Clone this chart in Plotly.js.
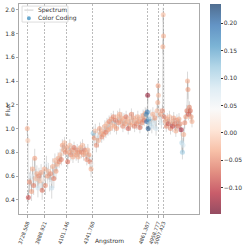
<!DOCTYPE html>
<html>
<head>
<meta charset="utf-8">
<script src="https://cdn.plot.ly/plotly-3.0.1.min.js"></script>
<style>html,body{margin:0;padding:0;background:#fff}#chart{width:249px;height:249px}</style>
</head>
<body>
<div id="chart"></div>
<script>
var wave = [
3728,3733,3738,3748,3758,3768,3778,3788,3798,3808,
3818,3828,3838,3848,3858,3868,3878,3888,3898,3908,
3918,3928,3938,3948,3958,3968,3978,3988,3998,4008,
4018,4028,4038,4048,4058,4068,4078,4088,4098,4108,
4118,4128,4138,4148,4158,4168,4178,4188,4198,4208,
4218,4228,4238,4248,4258,4268,4278,4288,4298,4308,
4318,4328,4338,4348,4358,4368,4378,4388,4398,4408,
4418,4428,4438,4448,4458,4468,4478,4488,4498,4508,
4518,4528,4538,4548,4558,4568,4578,4588,4598,4608,
4618,4628,4638,4648,4658,4668,4678,4688,4698,4708,
4718,4728,4738,4748,4758,4768,4778,4788,4798,4808,
4818,4828,4838,4846,4852,4858,4861,4866,4872,4880,
4890,4900,4910,4920,4930,4940,4950,4956,4959,4962,
4970,4980,4990,5000,5004,5007,5010,5016,5026,5036,
5046,5056,5066,5076,5086,5096,5106,5116,5126,5136,
5146,5156,5166,5176,5182,5188,5194,5200,5210,5220,
5230,5236,5240,5246,5254,5262,5270,5278];
var flux = [
1.00,0.90,0.42,0.55,0.60,0.47,0.66,0.52,0.75,0.58,
0.62,0.50,0.60,0.56,0.63,0.48,0.57,0.66,0.52,0.70,
0.60,0.64,0.55,0.62,0.50,0.68,0.58,0.73,0.64,0.70,
0.75,0.72,0.78,0.74,0.86,0.82,0.88,0.80,0.84,0.72,
0.80,0.86,0.78,0.82,0.76,0.84,0.80,0.78,0.82,0.76,
0.80,0.84,0.80,0.86,0.78,0.82,0.80,0.74,0.82,0.78,
0.72,0.66,0.70,0.96,0.92,0.98,0.86,0.94,0.90,1.00,
0.96,0.93,0.98,0.95,1.02,0.97,1.04,0.99,1.06,1.00,
1.08,1.03,1.10,1.02,1.07,1.00,1.10,1.05,1.12,1.06,
1.09,1.02,1.08,1.04,1.10,1.06,1.00,1.08,1.03,1.12,
1.05,1.09,1.02,1.07,1.04,1.10,1.06,1.01,1.08,1.05,
1.11,1.07,1.13,1.12,1.06,1.14,1.28,1.00,1.08,1.04,
1.10,1.02,1.12,1.05,1.09,1.00,1.15,1.22,1.36,1.28,
1.08,1.12,1.05,1.15,1.69,1.96,1.78,1.10,1.06,1.02,
1.08,1.04,1.10,1.00,1.06,1.02,1.09,1.04,0.98,1.07,
1.02,1.08,1.04,0.99,0.88,0.80,0.86,0.95,1.05,1.10,
1.15,1.40,1.33,1.12,1.18,1.15,1.10,1.06];
var coding = [
-0.03,-0.01,-0.09,-0.05,0.06,-0.04,-0.03,-0.06,-0.04,-0.02,
-0.03,0.08,-0.05,-0.02,-0.04,-0.07,0.03,-0.03,-0.05,0.06,
-0.04,-0.02,0.05,-0.05,0.09,-0.03,-0.06,-0.02,-0.04,-0.03,
-0.03,-0.05,-0.02,-0.06,-0.04,-0.03,-0.02,-0.05,-0.04,-0.07,
-0.03,-0.02,-0.05,-0.04,-0.03,-0.06,-0.02,-0.04,-0.05,-0.03,
-0.04,-0.03,-0.05,-0.02,-0.04,-0.06,-0.03,-0.05,-0.02,-0.04,
-0.06,-0.03,0.04,0.12,-0.04,-0.02,-0.05,0.06,-0.03,-0.04,
-0.03,-0.05,-0.02,-0.04,-0.03,-0.06,-0.02,-0.04,-0.05,-0.03,
-0.04,-0.02,-0.05,-0.03,-0.06,-0.04,-0.02,-0.05,-0.03,-0.04,
-0.03,-0.05,-0.02,-0.04,-0.06,-0.03,-0.08,-0.02,-0.04,-0.05,
-0.03,-0.04,-0.06,-0.02,-0.05,-0.03,-0.04,-0.07,-0.03,-0.05,
-0.04,-0.06,-0.03,0.16,0.20,0.18,-0.13,0.22,0.15,0.10,
0.06,0.09,-0.03,0.07,-0.04,0.08,-0.02,-0.03,-0.04,-0.02,
0.05,-0.03,0.07,-0.05,-0.03,-0.02,-0.03,-0.06,-0.03,-0.05,
-0.04,-0.08,-0.02,-0.05,-0.03,-0.09,-0.04,-0.06,-0.03,-0.05,
-0.07,-0.03,-0.05,-0.12,0.10,0.12,0.08,-0.03,-0.05,-0.04,
-0.06,-0.03,-0.04,-0.08,-0.05,-0.07,-0.04,-0.03];
var fluxErr = [
0.05,0.05,0.06,0.08,0.08,0.08,0.08,0.08,0.08,0.08,
0.07,0.08,0.07,0.07,0.07,0.08,0.07,0.07,0.08,0.07,
0.07,0.07,0.08,0.07,0.09,0.07,0.08,0.06,0.07,0.06,
0.05,0.05,0.05,0.05,0.05,0.05,0.05,0.05,0.05,0.06,
0.05,0.05,0.05,0.05,0.05,0.05,0.05,0.05,0.05,0.05,
0.05,0.05,0.05,0.05,0.05,0.05,0.05,0.05,0.05,0.05,
0.06,0.07,0.07,0.06,0.06,0.06,0.06,0.06,0.06,0.05,
0.05,0.05,0.05,0.05,0.05,0.05,0.05,0.05,0.05,0.05,
0.05,0.05,0.05,0.05,0.05,0.05,0.05,0.05,0.05,0.05,
0.05,0.05,0.05,0.05,0.05,0.05,0.05,0.05,0.05,0.05,
0.05,0.05,0.05,0.05,0.05,0.05,0.05,0.05,0.05,0.05,
0.05,0.05,0.05,0.05,0.05,0.05,0.06,0.06,0.05,0.06,
0.06,0.06,0.06,0.06,0.06,0.06,0.06,0.06,0.06,0.06,
0.05,0.05,0.05,0.05,0.06,0.06,0.06,0.05,0.05,0.05,
0.05,0.05,0.05,0.05,0.05,0.05,0.05,0.05,0.05,0.05,
0.05,0.05,0.05,0.05,0.06,0.06,0.06,0.06,0.05,0.05,
0.05,0.08,0.08,0.05,0.05,0.05,0.05,0.05];
var lineWaves = [3728.508, 3888.921, 4101.146, 4341.760, 4861.307, 4958.777, 5007.423];
var lineLabels = ["3728.508", "3888.921", "4101.146", "4341.760", "4861.307", "4958.777", "5007.423"];
var colorTicks = [-0.10, -0.05, 0.00, 0.05, 0.10, 0.15, 0.20];
var legendNames = ["Spectrum", "Color Coding"];

var A = 0.7;
var rdbu = [
 [0.0, 'rgba(103,0,31,'+A+')'],
 [0.1, 'rgba(178,24,43,'+A+')'],
 [0.2, 'rgba(214,96,77,'+A+')'],
 [0.3, 'rgba(244,165,130,'+A+')'],
 [0.4, 'rgba(253,219,199,'+A+')'],
 [0.5, 'rgba(247,247,247,'+A+')'],
 [0.6, 'rgba(209,229,240,'+A+')'],
 [0.7, 'rgba(146,197,222,'+A+')'],
 [0.8, 'rgba(67,147,195,'+A+')'],
 [0.9, 'rgba(33,102,172,'+A+')'],
 [1.0, 'rgba(5,48,97,'+A+')']
];
var font = {family: 'DejaVu Sans', size: 6, color: '#333'};

var traces = [
 {x: wave, y: flux, type: 'scatter', mode: 'lines', name: legendNames[0], showlegend: false,
  line: {color: 'rgba(170,170,170,0.4)', width: 1}},
 {x: wave, y: flux, type: 'scatter', mode: 'markers', name: legendNames[1], showlegend: false,
  error_y: {type: 'data', array: fluxErr, visible: true, color: 'rgba(160,160,160,0.4)', thickness: 1, width: 0},
  marker: {color: coding, colorscale: rdbu, cmin: -0.148, cmax: 0.235, size: 5, opacity: 0.8,
   line: {width: 0},
   colorbar: {x: 1.061, xanchor: 'left', y: 0.5, yanchor: 'middle', len: 1, lenmode: 'fraction',
    thickness: 11, thicknessmode: 'pixels', outlinewidth: 0, xpad: 0, ypad: 0,
    tickvals: colorTicks, tickformat: '.2f', ticks: 'outside', ticklen: 2, tickcolor: '#333',
    tickfont: font}}}
];

// custom compact legend (box, line sample, dot sample, labels)
var shapes = [
 {type: 'rect', xref: 'paper', yref: 'paper', x0: 0.017, x1: 0.272, y0: 0.914, y1: 0.990,
  line: {color: '#ddd', width: 1}, fillcolor: 'rgba(255,255,255,0.8)'},
 {type: 'line', xref: 'paper', yref: 'paper', x0: 0.030, x1: 0.080, y0: 0.971, y1: 0.971,
  line: {color: 'rgba(170,170,170,0.6)', width: 1}},
 {type: 'circle', xref: 'paper', yref: 'paper', x0: 0.044, x1: 0.066, y0: 0.923, y1: 0.942,
  line: {width: 0}, fillcolor: 'rgba(67,147,195,0.8)'}
];
var annotations = [
 {xref: 'paper', yref: 'paper', x: 0.094, y: 0.971, xanchor: 'left', yanchor: 'middle', showarrow: false,
  text: legendNames[0], font: font},
 {xref: 'paper', yref: 'paper', x: 0.094, y: 0.933, xanchor: 'left', yanchor: 'middle', showarrow: false,
  text: legendNames[1], font: font},
 {xref: 'paper', yref: 'paper', x: 0.5, y: -0.129, xanchor: 'center', yanchor: 'middle', showarrow: false,
  text: 'Angstrom', font: font},
 {xref: 'paper', yref: 'paper', x: -0.067, y: 0.5, xanchor: 'center', yanchor: 'middle', showarrow: false,
  text: 'Flux', textangle: -90, font: font}
];

var layout = {
 width: 249, height: 249,
 margin: {l: 19, r: 50, t: 4, b: 35},
 paper_bgcolor: '#fff', plot_bgcolor: '#fff',
 font: font,
 showlegend: false,
 shapes: shapes,
 annotations: annotations,
 xaxis: {range: [3650, 5344], tickmode: 'array', tickvals: lineWaves, ticktext: lineLabels,
  tickangle: -70, tickfont: {family: 'DejaVu Sans', size: 5, color: '#333'},
  showgrid: true, gridcolor: '#bbb', griddash: '2px,1.5px', gridwidth: 1,
  showline: true, linecolor: '#aaa', linewidth: 1, mirror: true, zeroline: false,
  ticks: 'outside', ticklen: 3, tickcolor: '#aaa', automargin: false},
 yaxis: {range: [0.28, 2.05], tickvals: [0.4,0.6,0.8,1.0,1.2,1.4,1.6,1.8,2.0], tickformat: '.1f',
  showgrid: false, zeroline: false, showline: true, linecolor: '#aaa', linewidth: 1, mirror: true,
  ticks: 'outside', ticklen: 2, tickcolor: '#aaa', automargin: false}
};

Plotly.newPlot('chart', traces, layout, {displayModeBar: false, staticPlot: true});
</script>
</body>
</html>
